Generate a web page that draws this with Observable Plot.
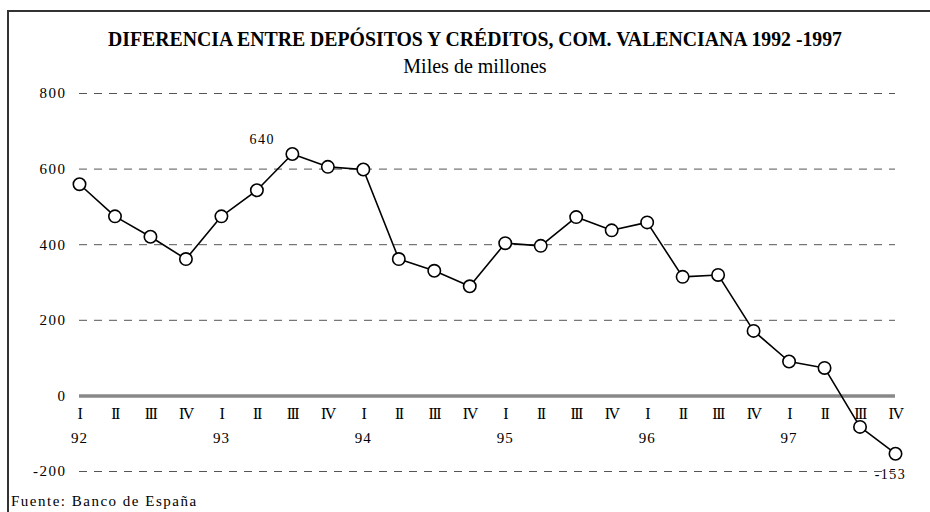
<!DOCTYPE html>
<html>
<head>
<meta charset="utf-8">
<script src="https://cdn.jsdelivr.net/npm/d3@7"></script>
<script src="https://cdn.jsdelivr.net/npm/@observablehq/plot@0.6"></script>
<style>
  html, body { margin: 0; padding: 0; background: #fff; }
  #wrap { position: relative; width: 930px; height: 512px; overflow: hidden; font-family: "Liberation Serif", "Times New Roman", serif; }
  #frame { position: absolute; left: 7px; top: 10px; width: 940px; height: 520px; border-top: 2px solid #333; border-left: 2px solid #333; }
  #chart { position: absolute; left: 0; top: 0; }
  #titles { position: absolute; left: 0; top: 0; }
  #caption { position: absolute; left: 11px; top: 493px; font-size: 15px; letter-spacing: 1.5px; color: #000; }
  g[aria-label="y-axis tick label"] text { letter-spacing: 1.5px; }
  .yr text { letter-spacing: 1px; }
  .qt text { letter-spacing: -1.5px; }
  .ann text { letter-spacing: 1.5px; }
</style>
</head>
<body>
<div id="wrap">
  <div id="frame"></div>
  <div id="chart"></div>
  <svg id="titles" width="930" height="90">
    <text x="475" y="45.5" text-anchor="middle" font-family="Liberation Serif, serif" font-weight="bold" font-size="21" textLength="734" lengthAdjust="spacingAndGlyphs">DIFERENCIA ENTRE DEPÓSITOS Y CRÉDITOS, COM. VALENCIANA 1992 -1997</text>
    <text x="475" y="72.7" text-anchor="middle" font-family="Liberation Serif, serif" font-size="20">Miles de millones</text>
  </svg>
  <div id="caption">Fuente: Banco de España</div>
</div>
<script>
const values = [560, 475, 421, 362, 475, 544, 640, 606, 599, 362, 331, 290,
                404, 397, 473, 438, 459, 315, 320, 172, 91, 74, -82, -153];
const quarterLabels = ["I", "II", "III", "IV"];
const yearLabels = ["92", "93", "94", "95", "96", "97"];
const yTicks = [-200, 0, 200, 400, 600, 800];
const maxIndex = 6;   // labelled peak
const lastIndex = 23; // labelled last value

const data = values.map((v, i) => ({
  i, v,
  q: quarterLabels[i % 4],
  yr: i % 4 === 0 ? yearLabels[Math.floor(i / 4)] : ""
}));
const fmt = d => d < 0 ? "-" + Math.abs(d) : String(d);

const plot = Plot.plot({
  width: 930,
  height: 512,
  marginLeft: 79,
  marginRight: 35,
  marginTop: 93,
  marginBottom: 41,
  style: {fontFamily: "'Liberation Serif', 'Times New Roman', serif", background: "transparent", color: "#000"},
  x: {domain: [0, values.length - 1], axis: null},
  y: {domain: [-200, 800], axis: null},
  marks: [
    Plot.ruleY(yTicks.filter(d => d !== 0), {stroke: "#555", strokeWidth: 1, strokeDasharray: "8,7"}),
    Plot.ruleY([0], {stroke: "#888", strokeWidth: 3.5}),
    Plot.axisY({ticks: yTicks, tickSize: 0, tickPadding: 13, fontSize: 15, tickFormat: fmt, label: null}),
    Plot.text(data, {x: "i", y: 0, text: "q", dy: 18, fontSize: 16, className: "qt"}),
    Plot.text(data, {x: "i", y: 0, text: "yr", dy: 42, fontSize: 15, className: "yr"}),
    Plot.line(data, {x: "i", y: "v", stroke: "#000", strokeWidth: 1.6}),
    Plot.dot(data, {x: "i", y: "v", r: 6.2, fill: "#fff", stroke: "#000", strokeWidth: 1.6}),
    Plot.text([data[maxIndex]], {x: "i", y: "v", text: d => fmt(d.v), dx: -30, dy: -14, fontSize: 14, className: "ann"}),
    Plot.text([data[lastIndex]], {x: "i", y: "v", text: d => fmt(d.v), dx: -5, dy: 21, fontSize: 14, className: "ann"})
  ]
});
document.getElementById("chart").appendChild(plot);
</script>
</body>
</html>
